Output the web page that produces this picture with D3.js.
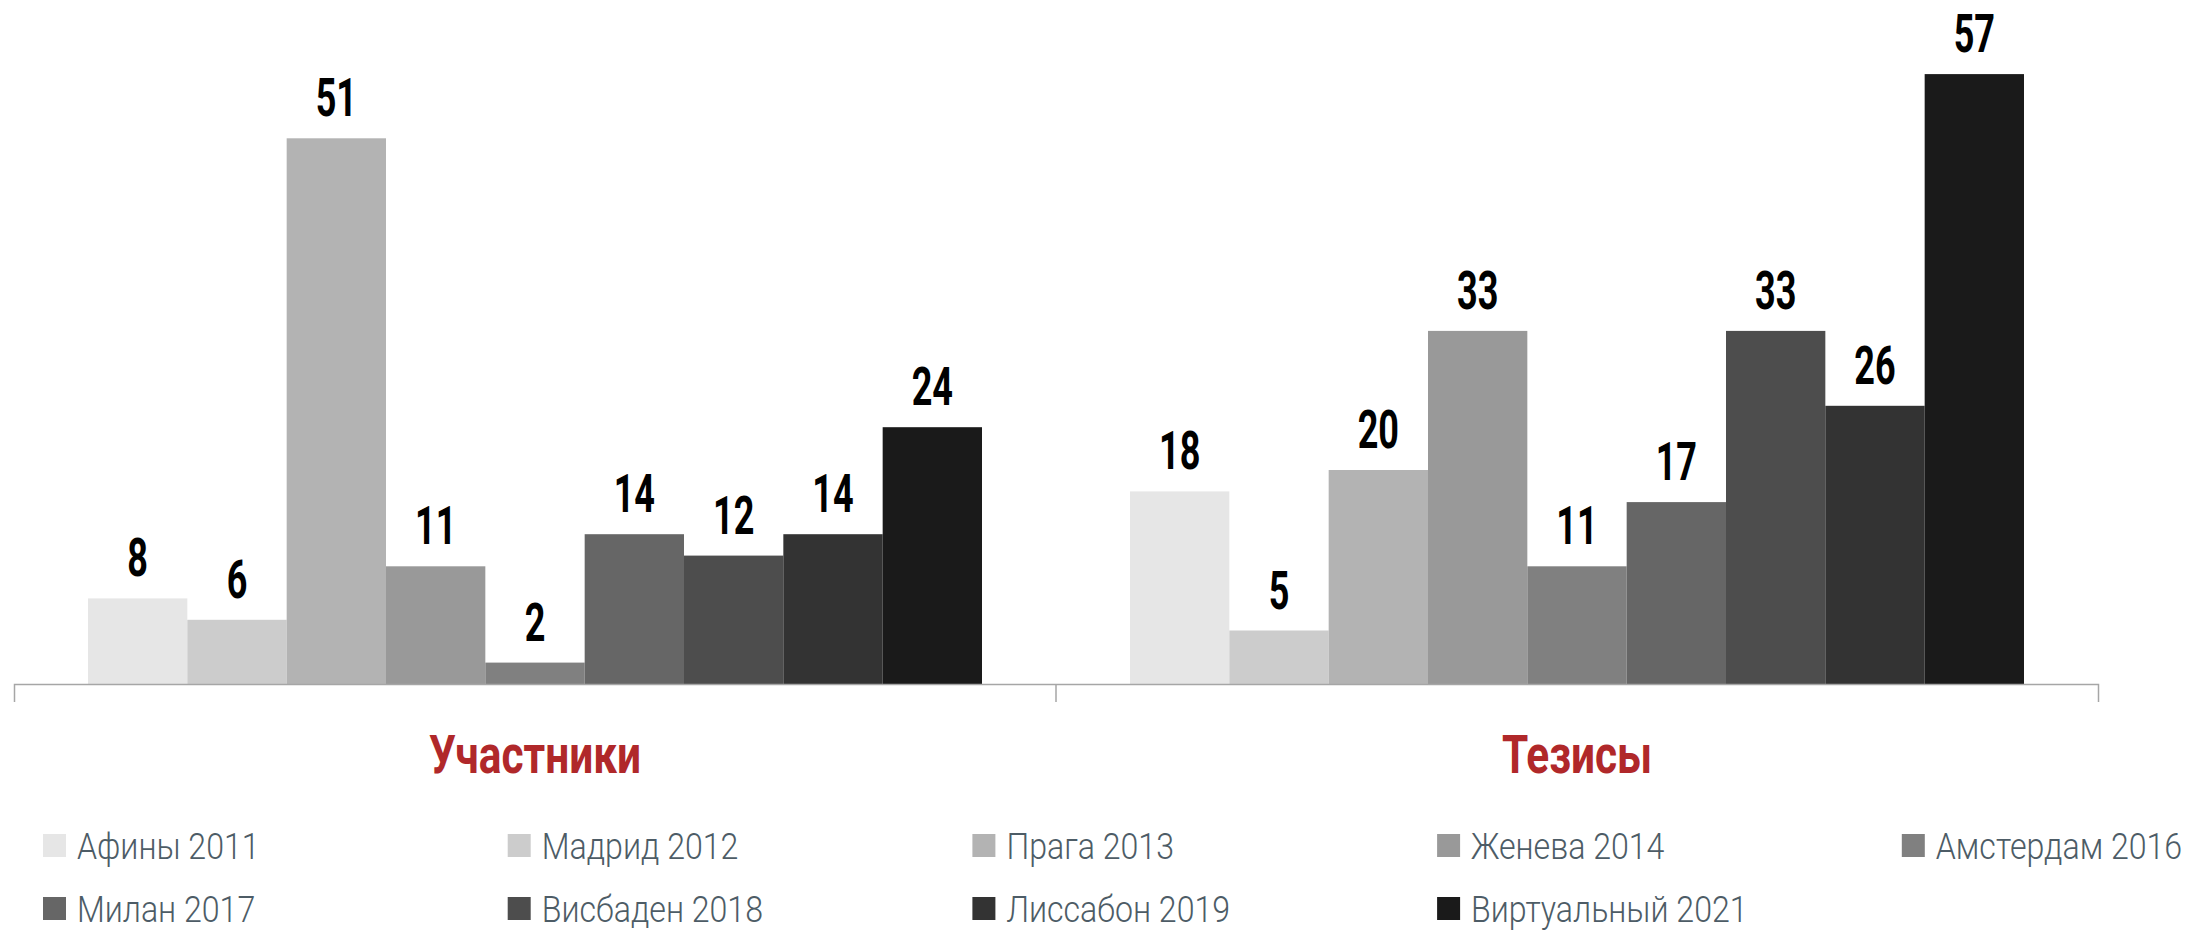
<!DOCTYPE html>
<html><head><meta charset="utf-8">
<script src="https://cdn.jsdelivr.net/npm/d3@7"></script>
<style>
html,body{margin:0;padding:0;background:#fff;}
svg{display:block;}
</style></head>
<body>
<svg id="chart" width="2193" height="930"></svg>
<script>
const groups = ["Участники", "Тезисы"];
const series = ["Афины 2011", "Мадрид 2012", "Прага 2013", "Женева 2014", "Амстердам 2016", "Милан 2017", "Висбаден 2018", "Лиссабон 2019", "Виртуальный 2021"];
const participants = [8, 6, 51, 11, 2, 14, 12, 14, 24];
const theses = [18, 5, 20, 33, 11, 17, 33, 26, 57];
const colors = ["#e6e6e6", "#cccccc", "#b3b3b3", "#999999", "#808080", "#666666", "#4d4d4d", "#333333", "#1a1a1a"];

const values = [participants, theses];
const data = groups.map((g, gi) => series.map((s, si) => ({group: g, series: s, value: values[gi][si], color: colors[si]})));

const svg = d3.select("#chart");
const font = "Roboto, 'Liberation Sans', sans-serif";

const x0 = d3.scaleBand().domain(groups).range([14, 2098]).paddingInner(0).paddingOuter(0);
const x1 = d3.scaleBand().domain(series).range([0, x0.bandwidth()]).paddingInner(0).paddingOuter(0.745);
const y = d3.scaleLinear().domain([0, 60]).range([684, 684 - 60 * 10.70]);

const g = svg.append("g").selectAll("g").data(data).join("g")
  .attr("transform", d => `translate(${x0(d[0].group)},0)`);

g.selectAll("rect").data(d => d).join("rect")
  .attr("x", d => x1(d.series))
  .attr("width", x1.bandwidth())
  .attr("y", d => y(d.value))
  .attr("height", d => y(0) - y(d.value))
  .attr("fill", d => d.color);

g.selectAll("text.val").data(d => d).join("text")
  .attr("class", "val")
  .attr("transform", d => `translate(${x1(d.series) + x1.bandwidth() / 2},${y(d.value) - 22}) scale(0.68,1)`)
  .attr("text-anchor", "middle")
  .attr("font-family", font)
  .attr("font-weight", "bold")
  .attr("font-size", 53)
  .attr("fill", "#000")
  .text(d => d.value);

// axis
const axis = svg.append("g").attr("transform", `translate(0,${y(0)})`)
  .call(d3.axisBottom(x0).tickSize(0).tickSizeOuter(18).tickFormat(""));
axis.select(".domain").attr("stroke", "#a6a6a6").attr("stroke-width", 1.5);
axis.selectAll(".bound").data(groups.slice(1)).join("line")
  .attr("class", "bound")
  .attr("x1", d => x0(d)).attr("x2", d => x0(d))
  .attr("y1", 0).attr("y2", 18)
  .attr("stroke", "#a6a6a6").attr("stroke-width", 1.5);

svg.append("g").selectAll("text").data(groups).join("text")
  .attr("transform", d => `translate(${x0(d) + x0.bandwidth() / 2},773) scale(0.8,1)`)
  .attr("text-anchor", "middle")
  .attr("font-family", font)
  .attr("font-weight", "bold")
  .attr("font-size", 53)
  .attr("fill", "#b0282a")
  .text(d => d);

// legend
const legend = svg.append("g").selectAll("g").data(series).join("g")
  .attr("transform", (d, i) => `translate(${43 + (i % 5) * 464.7},${834 + Math.floor(i / 5) * 63})`);
legend.append("rect").attr("width", 23).attr("height", 23).attr("fill", (d, i) => colors[i]);
legend.append("text")
  .attr("transform", "translate(34,25) scale(0.88,1)")
  .attr("font-family", font)
  .attr("font-weight", 300)
  .attr("font-size", 36.5)
  .attr("fill", "#4d5c66")
  .text(d => d);
</script>
</body></html>
